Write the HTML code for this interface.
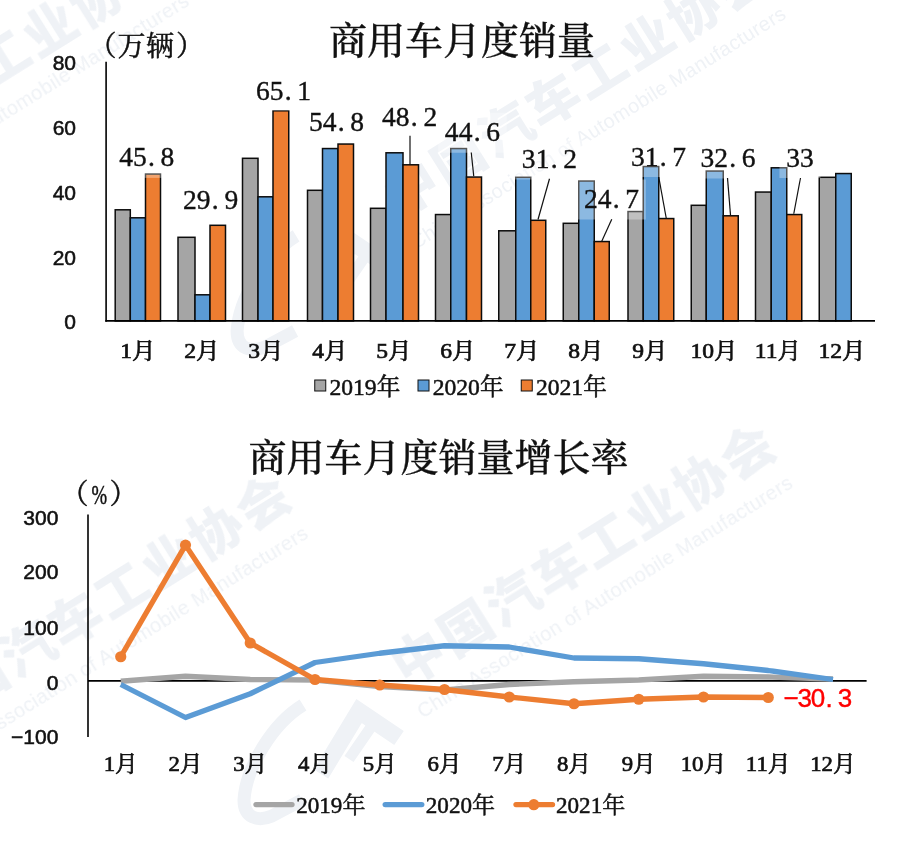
<!DOCTYPE html>
<html lang="zh-CN"><head><meta charset="utf-8"><title>商用车月度销量</title>
<style>
html,body{margin:0;padding:0;background:#fff;}
body{width:900px;height:850px;overflow:hidden;font-family:"Liberation Serif","Noto Serif CJK SC",serif;}
svg{display:block}
</style></head><body>
<svg width="900" height="850" viewBox="0 0 900 850">
<rect width="900" height="850" fill="#fff"/>
<defs><filter id="soft" x="-5%" y="-5%" width="110%" height="110%"><feGaussianBlur stdDeviation="0.6"/></filter></defs>
<g id="wm" filter="url(#soft)">
<g transform="translate(411.7,188.5) rotate(-32)" fill="#EFF2F6">
<text x="-26" y="19" font-family='"Liberation Sans","Noto Sans CJK SC",sans-serif' font-weight="900" font-size="52" letter-spacing="3.4">中国汽车工业协会</text>
<text x="-29" y="54" font-family='"Liberation Sans","Noto Sans CJK SC",sans-serif' font-size="20" textLength="438" lengthAdjust="spacing">China Association of Automobile Manufacturers</text>
</g>
<g transform="translate(-6.9,-469.1)" fill="none" stroke="#EFF2F6" stroke-width="13" stroke-linejoin="miter" stroke-linecap="butt">
<path d="M303,705 C272,724 246,768 244,800 C244,818 258,822 272,816 L302,800"/>
<path d="M321,774 L359,711 L399,738" stroke-width="17"/>
<path d="M349,759 L371,727" stroke-width="11"/>
</g>
<g transform="translate(-185,175.5) rotate(-32)" fill="#EFF2F6">
<text x="-26" y="19" font-family='"Liberation Sans","Noto Sans CJK SC",sans-serif' font-weight="900" font-size="52" letter-spacing="3.4">中国汽车工业协会</text>
<text x="-29" y="54" font-family='"Liberation Sans","Noto Sans CJK SC",sans-serif' font-size="20" textLength="438" lengthAdjust="spacing">China Association of Automobile Manufacturers</text>
</g>
<g transform="translate(418.6,657.6) rotate(-32)" fill="#EFF2F6">
<text x="-26" y="19" font-family='"Liberation Sans","Noto Sans CJK SC",sans-serif' font-weight="900" font-size="52" letter-spacing="3.4">中国汽车工业协会</text>
<text x="-29" y="54" font-family='"Liberation Sans","Noto Sans CJK SC",sans-serif' font-size="20" textLength="438" lengthAdjust="spacing">China Association of Automobile Manufacturers</text>
</g>
<g transform="translate(0.0,0.0)" fill="none" stroke="#EFF2F6" stroke-width="13" stroke-linejoin="miter" stroke-linecap="butt">
<path d="M303,705 C272,724 246,768 244,800 C244,818 258,822 272,816 L302,800"/>
<path d="M321,774 L359,711 L399,738" stroke-width="17"/>
<path d="M349,759 L371,727" stroke-width="11"/>
</g>
<g transform="translate(-66,708) rotate(-32)" fill="#EFF2F6">
<text x="-26" y="19" font-family='"Liberation Sans","Noto Sans CJK SC",sans-serif' font-weight="900" font-size="52" letter-spacing="3.4">中国汽车工业协会</text>
<text x="-29" y="54" font-family='"Liberation Sans","Noto Sans CJK SC",sans-serif' font-size="20" textLength="438" lengthAdjust="spacing">China Association of Automobile Manufacturers</text>
</g>
</g>
<g id="bars">
<rect x="115.20" y="209.80" width="15.10" height="111.10" fill="#A5A5A5" stroke="#0c0c0c" stroke-width="1.5"/>
<rect x="130.30" y="217.80" width="15.20" height="103.10" fill="#5B9BD5" stroke="#0c0c0c" stroke-width="1.5"/>
<rect x="145.50" y="174.05" width="15.00" height="146.85" fill="#ED7D31" stroke="#0c0c0c" stroke-width="1.5"/>
<rect x="178.00" y="237.30" width="17.00" height="83.60" fill="#A5A5A5" stroke="#0c0c0c" stroke-width="1.5"/>
<rect x="195.00" y="294.80" width="15.00" height="26.10" fill="#5B9BD5" stroke="#0c0c0c" stroke-width="1.5"/>
<rect x="210.00" y="225.30" width="15.50" height="95.60" fill="#ED7D31" stroke="#0c0c0c" stroke-width="1.5"/>
<rect x="242.50" y="158.30" width="15.50" height="162.60" fill="#A5A5A5" stroke="#0c0c0c" stroke-width="1.5"/>
<rect x="258.00" y="196.80" width="15.00" height="124.10" fill="#5B9BD5" stroke="#0c0c0c" stroke-width="1.5"/>
<rect x="273.00" y="110.80" width="15.75" height="210.10" fill="#ED7D31" stroke="#0c0c0c" stroke-width="1.5"/>
<rect x="307.50" y="190.30" width="15.00" height="130.60" fill="#A5A5A5" stroke="#0c0c0c" stroke-width="1.5"/>
<rect x="322.50" y="148.55" width="15.50" height="172.35" fill="#5B9BD5" stroke="#0c0c0c" stroke-width="1.5"/>
<rect x="338.00" y="144.05" width="15.50" height="176.85" fill="#ED7D31" stroke="#0c0c0c" stroke-width="1.5"/>
<rect x="370.50" y="208.30" width="15.50" height="112.60" fill="#A5A5A5" stroke="#0c0c0c" stroke-width="1.5"/>
<rect x="386.00" y="152.80" width="17.00" height="168.10" fill="#5B9BD5" stroke="#0c0c0c" stroke-width="1.5"/>
<rect x="403.00" y="164.80" width="15.50" height="156.10" fill="#ED7D31" stroke="#0c0c0c" stroke-width="1.5"/>
<rect x="435.50" y="214.55" width="15.25" height="106.35" fill="#A5A5A5" stroke="#0c0c0c" stroke-width="1.5"/>
<rect x="450.75" y="148.55" width="15.75" height="172.35" fill="#5B9BD5" stroke="#0c0c0c" stroke-width="1.5"/>
<rect x="466.50" y="177.05" width="15.00" height="143.85" fill="#ED7D31" stroke="#0c0c0c" stroke-width="1.5"/>
<rect x="498.75" y="230.80" width="17.00" height="90.10" fill="#A5A5A5" stroke="#0c0c0c" stroke-width="1.5"/>
<rect x="515.75" y="177.30" width="15.00" height="143.60" fill="#5B9BD5" stroke="#0c0c0c" stroke-width="1.5"/>
<rect x="530.75" y="220.30" width="15.00" height="100.60" fill="#ED7D31" stroke="#0c0c0c" stroke-width="1.5"/>
<rect x="563.25" y="223.30" width="15.50" height="97.60" fill="#A5A5A5" stroke="#0c0c0c" stroke-width="1.5"/>
<rect x="578.75" y="181.05" width="15.50" height="139.85" fill="#5B9BD5" stroke="#0c0c0c" stroke-width="1.5"/>
<rect x="594.25" y="241.55" width="15.00" height="79.35" fill="#ED7D31" stroke="#0c0c0c" stroke-width="1.5"/>
<rect x="628.00" y="211.55" width="15.25" height="109.35" fill="#A5A5A5" stroke="#0c0c0c" stroke-width="1.5"/>
<rect x="643.25" y="166.55" width="15.50" height="154.35" fill="#5B9BD5" stroke="#0c0c0c" stroke-width="1.5"/>
<rect x="658.75" y="218.55" width="15.00" height="102.35" fill="#ED7D31" stroke="#0c0c0c" stroke-width="1.5"/>
<rect x="691.25" y="205.30" width="15.00" height="115.60" fill="#A5A5A5" stroke="#0c0c0c" stroke-width="1.5"/>
<rect x="706.25" y="171.05" width="17.00" height="149.85" fill="#5B9BD5" stroke="#0c0c0c" stroke-width="1.5"/>
<rect x="723.25" y="215.80" width="15.00" height="105.10" fill="#ED7D31" stroke="#0c0c0c" stroke-width="1.5"/>
<rect x="755.50" y="192.05" width="15.75" height="128.85" fill="#A5A5A5" stroke="#0c0c0c" stroke-width="1.5"/>
<rect x="771.25" y="167.80" width="15.50" height="153.10" fill="#5B9BD5" stroke="#0c0c0c" stroke-width="1.5"/>
<rect x="786.75" y="214.55" width="15.00" height="106.35" fill="#ED7D31" stroke="#0c0c0c" stroke-width="1.5"/>
<rect x="819.25" y="177.30" width="16.50" height="143.60" fill="#A5A5A5" stroke="#0c0c0c" stroke-width="1.5"/>
<rect x="835.75" y="173.55" width="15.50" height="147.35" fill="#5B9BD5" stroke="#0c0c0c" stroke-width="1.5"/>
</g>
<line x1="106.1" y1="61.8" x2="106.1" y2="321.7" stroke="#000" stroke-width="1.6"/>
<line x1="105.3" y1="320.9" x2="875" y2="320.9" stroke="#000" stroke-width="1.6"/>
<text x="76" y="329.3" text-anchor="end" font-family='"Liberation Sans","Noto Sans CJK SC",sans-serif' font-size="21" fill="#111" stroke="#111" stroke-width="0.55">0</text>
<text x="76" y="264.5" text-anchor="end" font-family='"Liberation Sans","Noto Sans CJK SC",sans-serif' font-size="21" fill="#111" stroke="#111" stroke-width="0.55">20</text>
<text x="76" y="199.7" text-anchor="end" font-family='"Liberation Sans","Noto Sans CJK SC",sans-serif' font-size="21" fill="#111" stroke="#111" stroke-width="0.55">40</text>
<text x="76" y="134.9" text-anchor="end" font-family='"Liberation Sans","Noto Sans CJK SC",sans-serif' font-size="21" fill="#111" stroke="#111" stroke-width="0.55">60</text>
<text x="76" y="70.1" text-anchor="end" font-family='"Liberation Sans","Noto Sans CJK SC",sans-serif' font-size="21" fill="#111" stroke="#111" stroke-width="0.55">80</text>
<text x="102.5 131.4 160.1 190" y="56.2" text-anchor="middle" font-family='"Liberation Serif","Noto Serif CJK SC",serif' font-size="28" fill="#111" stroke="#111" stroke-width="0.5">（万辆）</text>
<text x="462" y="53.5" text-anchor="middle" font-family='"Liberation Serif","Noto Serif CJK SC",serif' font-size="38" font-weight="500" fill="#111" stroke="#111" stroke-width="0.3">商用车月度销量</text>
<text transform="translate(137.9,358) scale(1.07,1)" text-anchor="middle" font-family='"Liberation Serif","Noto Serif CJK SC",serif' font-size="22" fill="#111" stroke="#111" stroke-width="0.7">1月</text>
<text transform="translate(201.9,358) scale(1.07,1)" text-anchor="middle" font-family='"Liberation Serif","Noto Serif CJK SC",serif' font-size="22" fill="#111" stroke="#111" stroke-width="0.7">2月</text>
<text transform="translate(265.9,358) scale(1.07,1)" text-anchor="middle" font-family='"Liberation Serif","Noto Serif CJK SC",serif' font-size="22" fill="#111" stroke="#111" stroke-width="0.7">3月</text>
<text transform="translate(329.9,358) scale(1.07,1)" text-anchor="middle" font-family='"Liberation Serif","Noto Serif CJK SC",serif' font-size="22" fill="#111" stroke="#111" stroke-width="0.7">4月</text>
<text transform="translate(393.9,358) scale(1.07,1)" text-anchor="middle" font-family='"Liberation Serif","Noto Serif CJK SC",serif' font-size="22" fill="#111" stroke="#111" stroke-width="0.7">5月</text>
<text transform="translate(457.9,358) scale(1.07,1)" text-anchor="middle" font-family='"Liberation Serif","Noto Serif CJK SC",serif' font-size="22" fill="#111" stroke="#111" stroke-width="0.7">6月</text>
<text transform="translate(521.9,358) scale(1.07,1)" text-anchor="middle" font-family='"Liberation Serif","Noto Serif CJK SC",serif' font-size="22" fill="#111" stroke="#111" stroke-width="0.7">7月</text>
<text transform="translate(585.9,358) scale(1.07,1)" text-anchor="middle" font-family='"Liberation Serif","Noto Serif CJK SC",serif' font-size="22" fill="#111" stroke="#111" stroke-width="0.7">8月</text>
<text transform="translate(649.9,358) scale(1.07,1)" text-anchor="middle" font-family='"Liberation Serif","Noto Serif CJK SC",serif' font-size="22" fill="#111" stroke="#111" stroke-width="0.7">9月</text>
<text transform="translate(713.9,358) scale(1.07,1)" text-anchor="middle" font-family='"Liberation Serif","Noto Serif CJK SC",serif' font-size="22" fill="#111" stroke="#111" stroke-width="0.7">10月</text>
<text transform="translate(777.9,358) scale(1.07,1)" text-anchor="middle" font-family='"Liberation Serif","Noto Serif CJK SC",serif' font-size="22" fill="#111" stroke="#111" stroke-width="0.7">11月</text>
<text transform="translate(841.9,358) scale(1.07,1)" text-anchor="middle" font-family='"Liberation Serif","Noto Serif CJK SC",serif' font-size="22" fill="#111" stroke="#111" stroke-width="0.7">12月</text>
<g id="dlabels">
<rect x="112.35" y="137.90" width="68.70" height="40" fill="#fff" fill-opacity="0.3"/>
<rect x="176.25" y="180.00" width="64.30" height="40" fill="#fff" fill-opacity="0.3"/>
<rect x="249.15" y="71.00" width="68.70" height="40" fill="#fff" fill-opacity="0.3"/>
<rect x="302.15" y="102.00" width="68.70" height="40" fill="#fff" fill-opacity="0.3"/>
<rect x="375.25" y="97.75" width="68.70" height="40" fill="#fff" fill-opacity="0.3"/>
<rect x="438.05" y="112.75" width="68.70" height="40" fill="#fff" fill-opacity="0.3"/>
<rect x="515.05" y="139.50" width="68.70" height="40" fill="#fff" fill-opacity="0.3"/>
<rect x="577.15" y="179.50" width="68.70" height="40" fill="#fff" fill-opacity="0.3"/>
<rect x="624.15" y="137.00" width="68.70" height="40" fill="#fff" fill-opacity="0.3"/>
<rect x="693.65" y="138.50" width="68.70" height="40" fill="#fff" fill-opacity="0.3"/>
<rect x="779.45" y="138.00" width="41.10" height="40" fill="#fff" fill-opacity="0.3"/>
<line x1="410" y1="135.75" x2="410" y2="164.5" stroke="#111" stroke-width="1.2"/>
<line x1="471.25" y1="152.5" x2="473.75" y2="176.25" stroke="#111" stroke-width="1.2"/>
<line x1="549.5" y1="178.75" x2="538" y2="219.5" stroke="#111" stroke-width="1.2"/>
<line x1="611.75" y1="219.25" x2="601.75" y2="241.25" stroke="#111" stroke-width="1.2"/>
<line x1="658.75" y1="177" x2="666.25" y2="218.25" stroke="#111" stroke-width="1.2"/>
<line x1="727.5" y1="178" x2="730.5" y2="215" stroke="#111" stroke-width="1.2"/>
<line x1="800.5" y1="178" x2="793.75" y2="213.75" stroke="#111" stroke-width="1.2"/>
<text x="126.00 139.80 151.40 167.40" y="166.4" text-anchor="middle" font-family='"Liberation Serif","Noto Serif CJK SC",serif' font-size="27.5" fill="#111" stroke="#111" stroke-width="0.4">45.8</text>
<text x="189.90 203.70 215.30 231.30" y="208.5" text-anchor="middle" font-family='"Liberation Serif","Noto Serif CJK SC",serif' font-size="27.5" fill="#111" stroke="#111" stroke-width="0.4">29.9</text>
<text x="262.80 276.60 288.20 304.20" y="99.5" text-anchor="middle" font-family='"Liberation Serif","Noto Serif CJK SC",serif' font-size="27.5" fill="#111" stroke="#111" stroke-width="0.4">65.1</text>
<text x="315.80 329.60 341.20 357.20" y="130.5" text-anchor="middle" font-family='"Liberation Serif","Noto Serif CJK SC",serif' font-size="27.5" fill="#111" stroke="#111" stroke-width="0.4">54.8</text>
<text x="388.90 402.70 414.30 430.30" y="126.25" text-anchor="middle" font-family='"Liberation Serif","Noto Serif CJK SC",serif' font-size="27.5" fill="#111" stroke="#111" stroke-width="0.4">48.2</text>
<text x="451.70 465.50 477.10 493.10" y="141.25" text-anchor="middle" font-family='"Liberation Serif","Noto Serif CJK SC",serif' font-size="27.5" fill="#111" stroke="#111" stroke-width="0.4">44.6</text>
<text x="528.70 542.50 554.10 570.10" y="168" text-anchor="middle" font-family='"Liberation Serif","Noto Serif CJK SC",serif' font-size="27.5" fill="#111" stroke="#111" stroke-width="0.4">31.2</text>
<text x="590.80 604.60 616.20 632.20" y="208" text-anchor="middle" font-family='"Liberation Serif","Noto Serif CJK SC",serif' font-size="27.5" fill="#111" stroke="#111" stroke-width="0.4">24.7</text>
<text x="637.80 651.60 663.20 679.20" y="165.5" text-anchor="middle" font-family='"Liberation Serif","Noto Serif CJK SC",serif' font-size="27.5" fill="#111" stroke="#111" stroke-width="0.4">31.7</text>
<text x="707.30 721.10 732.70 748.70" y="167" text-anchor="middle" font-family='"Liberation Serif","Noto Serif CJK SC",serif' font-size="27.5" fill="#111" stroke="#111" stroke-width="0.4">32.6</text>
<text x="793.10 806.90" y="166.5" text-anchor="middle" font-family='"Liberation Serif","Noto Serif CJK SC",serif' font-size="27.5" fill="#111" stroke="#111" stroke-width="0.4">33</text>
</g>
<rect x="314.75" y="380" width="11" height="11" fill="#A5A5A5" stroke="#111" stroke-width="1"/>
<text x="329.45" y="394.5" font-family='"Liberation Serif","Noto Serif CJK SC",serif' font-size="23.6" fill="#111" stroke="#111" stroke-width="0.5">2019年</text>
<rect x="418.0" y="380" width="11" height="11" fill="#5B9BD5" stroke="#111" stroke-width="1"/>
<text x="432.7" y="394.5" font-family='"Liberation Serif","Noto Serif CJK SC",serif' font-size="23.6" fill="#111" stroke="#111" stroke-width="0.5">2020年</text>
<rect x="521.25" y="380" width="11" height="11" fill="#ED7D31" stroke="#111" stroke-width="1"/>
<text x="535.95" y="394.5" font-family='"Liberation Serif","Noto Serif CJK SC",serif' font-size="23.6" fill="#111" stroke="#111" stroke-width="0.5">2021年</text>
<line x1="88.0" y1="514.4" x2="88.0" y2="737.0" stroke="#000" stroke-width="1.6"/>
<line x1="88.0" y1="680.9" x2="866.6" y2="680.9" stroke="#000" stroke-width="1.6"/>
<polyline points="120.75,681.25 185.50,676.25 250.25,679.50 315.00,680.00 379.75,686.50 444.50,690.00 509.25,684.50 574.00,681.75 638.75,680.00 703.50,676.25 768.25,677.00 833.00,679.00" fill="none" stroke="#A5A5A5" stroke-width="5.3" stroke-linejoin="round" stroke-linecap="butt"/>
<polyline points="120.75,684.50 185.50,717.50 250.25,693.75 315.00,662.50 379.75,653.25 444.50,645.75 509.25,647.00 574.00,658.00 638.75,658.75 703.50,663.75 768.25,670.50 833.00,679.50" fill="none" stroke="#5B9BD5" stroke-width="5.3" stroke-linejoin="round" stroke-linecap="butt"/>
<polyline points="120.75,656.75 185.50,545.10 250.25,643.00 315.00,679.50 379.75,685.00 444.50,689.50 509.25,697.00 574.00,703.75 638.75,699.25 703.50,697.00 768.25,697.50" fill="none" stroke="#ED7D31" stroke-width="5.3" stroke-linejoin="round" stroke-linecap="butt"/>
<circle cx="120.75" cy="656.75" r="5.6" fill="#ED7D31"/>
<circle cx="185.50" cy="545.10" r="5.6" fill="#ED7D31"/>
<circle cx="250.25" cy="643.00" r="5.6" fill="#ED7D31"/>
<circle cx="315.00" cy="679.50" r="5.6" fill="#ED7D31"/>
<circle cx="379.75" cy="685.00" r="5.6" fill="#ED7D31"/>
<circle cx="444.50" cy="689.50" r="5.6" fill="#ED7D31"/>
<circle cx="509.25" cy="697.00" r="5.6" fill="#ED7D31"/>
<circle cx="574.00" cy="703.75" r="5.6" fill="#ED7D31"/>
<circle cx="638.75" cy="699.25" r="5.6" fill="#ED7D31"/>
<circle cx="703.50" cy="697.00" r="5.6" fill="#ED7D31"/>
<circle cx="768.25" cy="697.50" r="5.6" fill="#ED7D31"/>
<text x="58.4" y="525.4" text-anchor="end" font-family='"Liberation Sans","Noto Sans CJK SC",sans-serif' font-size="21" fill="#111" stroke="#111" stroke-width="0.55">300</text>
<text x="58.4" y="579.2" text-anchor="end" font-family='"Liberation Sans","Noto Sans CJK SC",sans-serif' font-size="21" fill="#111" stroke="#111" stroke-width="0.55">200</text>
<text x="58.4" y="635.2" text-anchor="end" font-family='"Liberation Sans","Noto Sans CJK SC",sans-serif' font-size="21" fill="#111" stroke="#111" stroke-width="0.55">100</text>
<text x="58.4" y="689.6" text-anchor="end" font-family='"Liberation Sans","Noto Sans CJK SC",sans-serif' font-size="21" fill="#111" stroke="#111" stroke-width="0.55">0</text>
<text x="58.4" y="744.0" text-anchor="end" font-family='"Liberation Sans","Noto Sans CJK SC",sans-serif' font-size="21" fill="#111" stroke="#111" stroke-width="0.55">−100</text>
<text y="503.5" font-family='"Liberation Serif","Noto Serif CJK SC",serif' font-size="28" fill="#111" stroke="#111" stroke-width="0.5"><tspan x="60.5">（</tspan><tspan x="91.6" textLength="15.6" lengthAdjust="spacingAndGlyphs">%</tspan><tspan x="109.5">）</tspan></text>
<text x="438.5" y="470.5" text-anchor="middle" font-family='"Liberation Serif","Noto Serif CJK SC",serif' font-size="38" font-weight="500" fill="#111" stroke="#111" stroke-width="0.3">商用车月度销量增长率</text>
<text transform="translate(120.8,771) scale(1.035,1)" text-anchor="middle" font-family='"Liberation Serif","Noto Serif CJK SC",serif' font-size="22" fill="#111" stroke="#111" stroke-width="0.7">1月</text>
<text transform="translate(185.5,771) scale(1.035,1)" text-anchor="middle" font-family='"Liberation Serif","Noto Serif CJK SC",serif' font-size="22" fill="#111" stroke="#111" stroke-width="0.7">2月</text>
<text transform="translate(250.2,771) scale(1.035,1)" text-anchor="middle" font-family='"Liberation Serif","Noto Serif CJK SC",serif' font-size="22" fill="#111" stroke="#111" stroke-width="0.7">3月</text>
<text transform="translate(315.0,771) scale(1.035,1)" text-anchor="middle" font-family='"Liberation Serif","Noto Serif CJK SC",serif' font-size="22" fill="#111" stroke="#111" stroke-width="0.7">4月</text>
<text transform="translate(379.8,771) scale(1.035,1)" text-anchor="middle" font-family='"Liberation Serif","Noto Serif CJK SC",serif' font-size="22" fill="#111" stroke="#111" stroke-width="0.7">5月</text>
<text transform="translate(444.5,771) scale(1.035,1)" text-anchor="middle" font-family='"Liberation Serif","Noto Serif CJK SC",serif' font-size="22" fill="#111" stroke="#111" stroke-width="0.7">6月</text>
<text transform="translate(509.2,771) scale(1.035,1)" text-anchor="middle" font-family='"Liberation Serif","Noto Serif CJK SC",serif' font-size="22" fill="#111" stroke="#111" stroke-width="0.7">7月</text>
<text transform="translate(574.0,771) scale(1.035,1)" text-anchor="middle" font-family='"Liberation Serif","Noto Serif CJK SC",serif' font-size="22" fill="#111" stroke="#111" stroke-width="0.7">8月</text>
<text transform="translate(638.8,771) scale(1.035,1)" text-anchor="middle" font-family='"Liberation Serif","Noto Serif CJK SC",serif' font-size="22" fill="#111" stroke="#111" stroke-width="0.7">9月</text>
<text transform="translate(703.5,771) scale(1.035,1)" text-anchor="middle" font-family='"Liberation Serif","Noto Serif CJK SC",serif' font-size="22" fill="#111" stroke="#111" stroke-width="0.7">10月</text>
<text transform="translate(768.2,771) scale(1.035,1)" text-anchor="middle" font-family='"Liberation Serif","Noto Serif CJK SC",serif' font-size="22" fill="#111" stroke="#111" stroke-width="0.7">11月</text>
<text transform="translate(833.0,771) scale(1.035,1)" text-anchor="middle" font-family='"Liberation Serif","Noto Serif CJK SC",serif' font-size="22" fill="#111" stroke="#111" stroke-width="0.7">12月</text>
<text x="791.20 804.65 818.10 829.15 845.00" y="707.2" text-anchor="middle" font-family='"Liberation Sans","Noto Sans CJK SC",sans-serif' font-size="26" fill="#FF0000" stroke="#FF0000" stroke-width="0.4">−30.3</text>
<line x1="256" y1="804.6" x2="292" y2="804.6" stroke="#A5A5A5" stroke-width="5.3" stroke-linecap="round"/>
<text x="296.2" y="813.3" font-family='"Liberation Serif","Noto Serif CJK SC",serif' font-size="23.1" fill="#111" stroke="#111" stroke-width="0.5">2019年</text>
<line x1="385.2" y1="804.6" x2="421.8" y2="804.6" stroke="#5B9BD5" stroke-width="5.3" stroke-linecap="round"/>
<text x="425.8" y="813.3" font-family='"Liberation Serif","Noto Serif CJK SC",serif' font-size="23.1" fill="#111" stroke="#111" stroke-width="0.5">2020年</text>
<line x1="516" y1="804.6" x2="552.5" y2="804.6" stroke="#ED7D31" stroke-width="5.3" stroke-linecap="round"/>
<circle cx="533.8" cy="804.7" r="5.6" fill="#ED7D31"/>
<text x="556" y="813.3" font-family='"Liberation Serif","Noto Serif CJK SC",serif' font-size="23.1" fill="#111" stroke="#111" stroke-width="0.5">2021年</text>
</svg>
</body></html>
